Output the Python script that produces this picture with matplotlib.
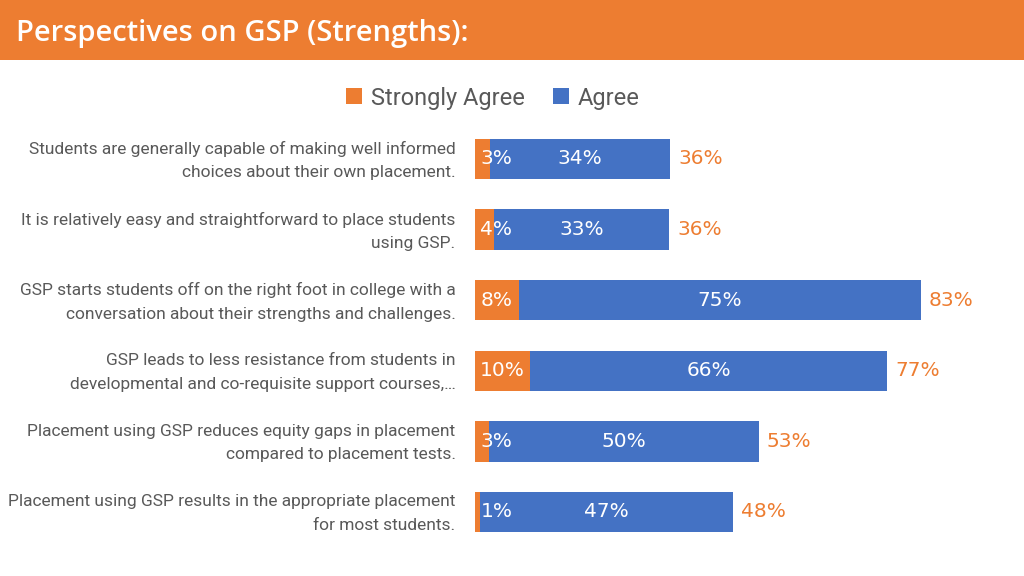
import matplotlib
matplotlib.use('Agg')
import matplotlib.pyplot as plt
from matplotlib.patches import Rectangle
from matplotlib.transforms import ScaledTranslation

# ---- data ----
categories = [
    "Students are generally capable of making well informed\nchoices about their own placement.",
    "It is relatively easy and straightforward to place students\nusing GSP.",
    "GSP starts students off on the right foot in college with a\nconversation about their strengths and challenges.",
    "GSP leads to less resistance from students in\ndevelopmental and co-requisite support courses,…",
    "Placement using GSP reduces equity gaps in placement\ncompared to placement tests.",
    "Placement using GSP results in the appropriate placement\nfor most students.",
]
strongly_agree = [2.8, 3.6, 8.2, 10.3, 2.7, 1.0]
agree          = [33.6, 32.6, 74.8, 66.4, 50.1, 47.0]
totals         = [36, 36, 83, 77, 53, 48]
series_names   = ["Strongly Agree", "Agree"]

ORANGE = '#ED7D31'
BLUE   = '#4472C4'
GRAY   = '#595959'
NARROW = ['Roboto', 'DejaVu Sans']

fig = plt.figure(figsize=(10.24, 5.76), dpi=100)

# header band
fig.patches.append(Rectangle((0, 1 - 60/576), 1, 60/576, transform=fig.transFigure,
                             facecolor=ORANGE, edgecolor='none', zorder=0))
fig.text(16/1024, 1 - 33/576, "Perspectives on GSP (Strengths):", color='white',
         fontsize=21, fontweight='semibold', family=['Open Sans', 'DejaVu Sans'],
         va='center', ha='left')

# bars
ax = fig.add_axes([475/1024, 1 - 547.3/576, 537/1024, 423.6/576])
y = list(range(len(categories)))
ax.barh(y, strongly_agree, height=0.57, color=ORANGE, label=series_names[0])
ax.barh(y, agree, left=strongly_agree, height=0.57, color=BLUE, label=series_names[1])
ax.set_xlim(0, 100)
ax.set_ylim(len(categories) - 0.5, -0.5)

for i in y:
    sa, ag = strongly_agree[i], agree[i]
    ax.text(max(sa / 2, 4.0), i, f"{sa:.0f}%", color='white', fontsize=14.5,
            ha='center', va='center', family=['DejaVu Sans'])
    ax.text(sa + ag / 2, i, f"{ag:.0f}%", color='white', fontsize=14.5,
            ha='center', va='center', family=['DejaVu Sans'])
    ax.text(sa + ag + 1.5, i, f"{totals[i]}%", color=ORANGE, fontsize=14.5,
            ha='left', va='center', family=['DejaVu Sans'])

ax.set_yticks(y)
ax.set_yticklabels(categories, fontsize=12.5, color=GRAY, family=NARROW,
                   ha='right', linespacing=1.7)
ax.tick_params(axis='y', length=0, pad=14)
# nudge labels up a little
shift = ScaledTranslation(0, 4/100, fig.dpi_scale_trans)
for lbl in ax.get_yticklabels():
    lbl.set_transform(lbl.get_transform() + shift)
ax.set_xticks([])
for s in ax.spines.values():
    s.set_visible(False)

leg = fig.legend(loc='center', bbox_to_anchor=(493/1024, 1 - 98/576), ncol=2,
                 frameon=False, handlelength=0.65, handleheight=0.65,
                 handletextpad=0.4, columnspacing=1.2,
                 prop={'family': NARROW, 'size': 17})
for t in leg.get_texts():
    t.set_color(GRAY)

fig.savefig('out.png', dpi=100)
